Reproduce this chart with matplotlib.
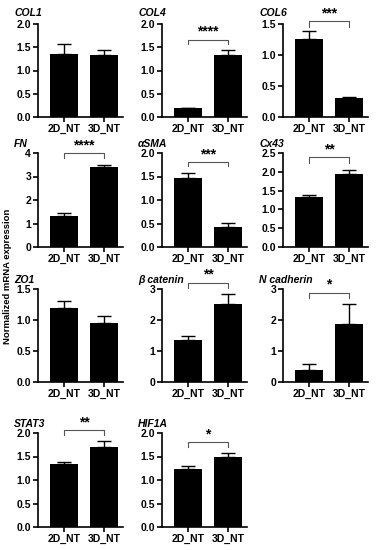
import numpy as np
import matplotlib
matplotlib.use("Agg")
import matplotlib.pyplot as plt

plt.rcParams['font.family'] = ['Liberation Sans', 'DejaVu Sans']

groups = ["2D_NT", "3D_NT"]
genes = ["COL1", "COL4", "COL6", "FN", "αSMA", "Cx43",
         "ZO1", "β catenin", "N cadherin", "STAT3", "HIF1A"]
mean_2d = [1.36, 0.20, 1.26, 1.32, 1.46, 1.32, 1.20, 1.36, 0.38, 1.33, 1.23]
mean_3d = [1.33, 1.33, 0.31, 3.40, 0.43, 1.93, 0.95, 2.52, 1.88, 1.71, 1.49]
err_2d = [0.22, 0.0, 0.12, 0.13, 0.12, 0.06, 0.10, 0.12, 0.20, 0.06, 0.06]
err_3d = [0.11, 0.11, 0.01, 0.10, 0.09, 0.13, 0.12, 0.33, 0.65, 0.12, 0.09]
y_max = [2.0, 2.0, 1.5, 4.0, 2.0, 2.5, 1.5, 3.0, 3.0, 2.0, 2.0]
y_step = [0.5, 0.5, 0.5, 1.0, 0.5, 0.5, 0.5, 1.0, 1.0, 0.5, 0.5]
sig = ["", "****", "***", "****", "***", "**", "", "**", "*", "**", "*"]
bracket_y = [0, 1.66, 1.55, 4.0, 1.81, 2.39, 0, 3.2, 2.88, 2.06, 1.81]
bracket_drop = [0, 0.09, 0.10, 0.2, 0.09, 0.15, 0, 0.18, 0.18, 0.1, 0.1]

W, H = 389, 550
fig = plt.figure(figsize=(W / 100, H / 100), dpi=100)

col_left = [38, 162, 283]
ax_w = 85
row_top = [24, 153, 289, 433]
row_bot = [117, 247, 382, 527]

for i, g in enumerate(genes):
    r, c = divmod(i, 3)
    l = col_left[c]
    ax = fig.add_axes([l / W, 1 - row_bot[r] / H, ax_w / W, (row_bot[r] - row_top[r]) / H])
    x = np.arange(2)
    ax.bar(x, [mean_2d[i], mean_3d[i]], width=0.7, color="black", zorder=2)
    ax.errorbar(x, [mean_2d[i], mean_3d[i]],
                yerr=[[0, 0], [err_2d[i], err_3d[i]]],
                fmt="none", ecolor="black", elinewidth=1.0, capsize=5,
                capthick=1.0, zorder=1)
    ax.set_xlim(-0.65, 1.48)
    ax.set_ylim(0, y_max[i])
    ticks = np.arange(0, y_max[i] + 1e-9, y_step[i])
    ax.set_yticks(ticks)
    if y_step[i] < 1:
        ax.set_yticklabels([f"{t:.1f}" for t in ticks])
    else:
        ax.set_yticklabels([f"{int(t)}" for t in ticks])
    ax.set_xticks(x)
    ax.set_xticklabels(groups)
    for sp in ["top", "right"]:
        ax.spines[sp].set_visible(False)
    for sp in ["left", "bottom"]:
        ax.spines[sp].set_linewidth(1.2)
    ax.tick_params(axis="both", direction="out", width=1.2, length=3.5,
                   labelsize=7.5, pad=1.5)
    for lab in ax.get_xticklabels() + ax.get_yticklabels():
        lab.set_fontweight("bold")
    ax.text(-0.28, 1.04 if r else 1.06, g, transform=ax.transAxes, fontsize=7.5,
            fontweight="bold", style="italic", ha="left", va="bottom")
    if sig[i]:
        by = bracket_y[i]
        d = bracket_drop[i]
        ax.plot([0, 0, 1, 1], [by - d, by, by, by - d], color="#555555",
                lw=0.8, clip_on=False)
        ax.text(0.5, by + 0.01 * y_max[i], sig[i], ha="center", va="bottom",
                fontsize=10, fontweight="bold", clip_on=False)

fig.text(0.018, 0.497, "Normalized mRNA expression", rotation=90, ha="center",
         va="center", fontsize=6.8, fontweight="bold")

fig.savefig("out.png", dpi=100)
